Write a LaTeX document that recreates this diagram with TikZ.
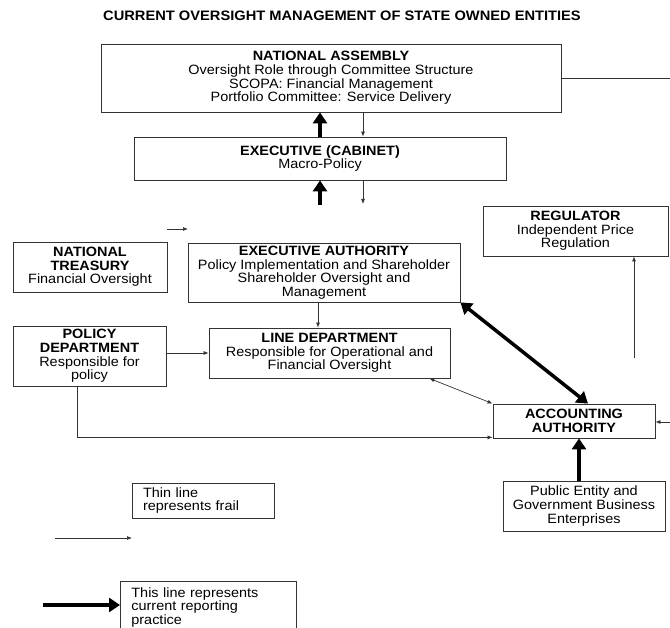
\documentclass[tikz,border=0pt]{standalone}
\usepackage{fontspec}
\setmainfont{Liberation Sans}[FakeStretch=1.07]
\usetikzlibrary{arrows.meta}

\begin{document}
\begin{tikzpicture}[x=1pt,y=-1pt,
    box/.style={draw=black!80,line width=0.8pt,align=center,inner sep=2pt,
      font=\fontsize{13.5}{13.6}\selectfont},
    note/.style={box,align=left,inner xsep=11pt},
    frailtip/.tip={Latex[length=5pt,width=4pt]},
    reporttip/.tip={Triangle[length=11pt,width=14pt]},
    frail/.style={draw=black!80,line width=0.7pt},
    report/.style={draw=black,line width=4pt}]
  \useasboundingbox (0,0) rectangle (670,628);

  \node[font=\bfseries\fontsize{13.7}{14}\selectfont] (title) at (342,16)
    {CURRENT OVERSIGHT MANAGEMENT OF STATE OWNED ENTITIES};

  \node[box,minimum width=460pt,minimum height=68pt] (na) at (331,78)
    {\textbf{NATIONAL ASSEMBLY}\\Oversight Role through Committee Structure\\
     SCOPA: Financial Management\\Portfolio Committee: Service Delivery};
  \node[box,minimum width=372pt,minimum height=43pt] (cab) at (320,158.5)
    {\textbf{EXECUTIVE (CABINET)}\\Macro-Policy};
  \node[box,minimum width=154pt,minimum height=50pt] (nt) at (90,267)
    {\textbf{NATIONAL}\\\textbf{TREASURY}\\Financial Oversight};
  \node[box,minimum width=272pt,minimum height=59pt] (ea) at (324,272.5)
    {\textbf{EXECUTIVE AUTHORITY}\\Policy Implementation and Shareholder\\
     Shareholder Oversight and\\Management};
  \node[box,minimum width=185pt,minimum height=50pt] (reg) at (575.5,231)
    {\textbf{REGULATOR}\\Independent Price\\Regulation};
  \node[box,minimum width=241pt,minimum height=50pt] (ld) at (329.5,353)
    {\textbf{LINE DEPARTMENT}\\Responsible for Operational and\\Financial Oversight};
  \node[box,minimum width=153pt,minimum height=60pt] (pd) at (89.5,356)
    {\textbf{POLICY}\\\textbf{DEPARTMENT}\\Responsible for\\policy};
  \node[box,minimum width=162pt,minimum height=34pt] (aa) at (574,421)
    {\textbf{ACCOUNTING}\\\textbf{AUTHORITY}};
  \node[box,minimum width=162pt,minimum height=50pt] (pe) at (584,506)
    {Public Entity and\\Government Business\\Enterprises};

  % legend
  \node[note,text width=120pt,minimum height=35pt] (lg1) at (203,500.5)
    {Thin line\\represents frail};
  \node[note,text width=154pt,minimum height=52pt,anchor=north west] (lg2) at (120,581)
    {This line represents\\current reporting\\practice};

  \coordinate (fa1) at (167,229);
  \coordinate (fa2) at (188,229);
  \coordinate (cabup) at (320,205);
  \coordinate (cabdown) at (363,204);
  \coordinate (naend) at (670,78);
  \coordinate (regfoot) at (634,358);
  \coordinate (aain) at (670,422);
  \coordinate (l1a) at (55,538);
  \coordinate (l1b) at (132,538);
  \coordinate (l2a) at (43,605);

  % thin lines
  \begin{scope}[frail,-frailtip]
    \draw (cabdown |- na.south) -- (cabdown |- cab.north);
    \draw (cabdown |- cab.south) -- (cabdown);
    \draw (fa1) -- (fa2);
    \draw ([xshift=-6pt]ea.south) -- ([xshift=-6pt]ea.south |- ld.north);
    \draw (pd.east |- ld.west) -- (ld.west);
    \draw ([xshift=-12.5pt]pd.south) |- ([yshift=1pt]aa.south west);
    \draw[frailtip-frailtip] ([xshift=-21pt]ld.south east) -- (aa.north west);
    \draw (regfoot) -- (regfoot |- reg.south);
    \draw (aain) -- (aain -| aa.east);
    \draw[-] (na.east) -- (naend);
    \draw (l1a) -- (l1b);
  \end{scope}

  % thick lines
  \begin{scope}[report,-reporttip]
    \draw (cab.north) -- (cab.north |- na.south);
    \draw (cabup) -- (cabup |- cab.south);
    \draw[reporttip-reporttip,line width=3.5pt] (ea.south east) -- ([xshift=14pt]aa.north);
    \draw ([xshift=-5pt]pe.north) -- ([xshift=-5pt]pe.north |- aa.south);
    \draw (l2a) -- (l2a -| lg2.west);
  \end{scope}
\end{tikzpicture}
\end{document}
